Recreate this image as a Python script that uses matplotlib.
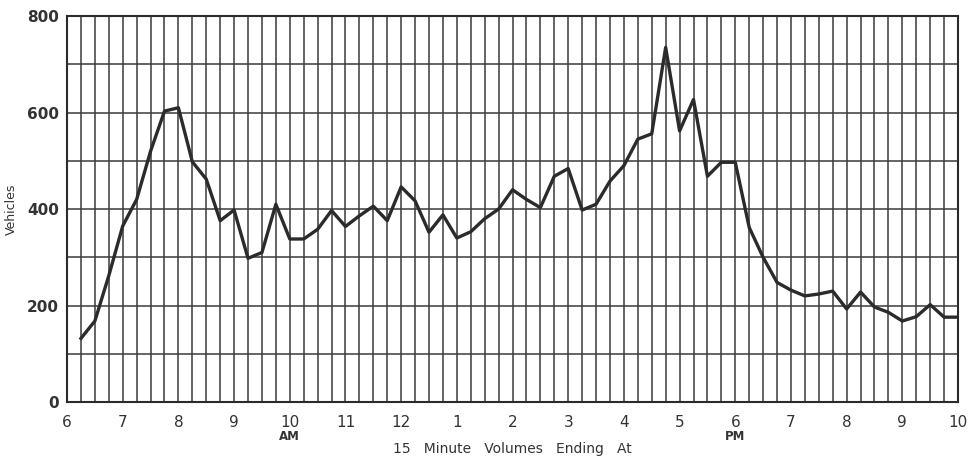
import numpy as np
import matplotlib
matplotlib.use('Agg')
import matplotlib.pyplot as plt

# 15 minute volumes, ending 6:15 AM through 10:00 PM
volumes = [132, 168, 262, 365,
           420, 520, 603, 610,
           498, 462, 376, 398,
           298, 310, 410, 338,
           338, 358, 397, 364,
           386, 406, 376, 446,
           417, 352, 388, 340,
           353, 380, 400, 440,
           420, 403, 468, 484,
           398, 410, 458, 490,
           545, 556, 735, 562,
           627, 468, 497, 497,
           362, 300, 248, 232,
           220, 224, 230, 193,
           228, 197, 186, 168,
           177, 202, 176, 176]
hour_labels = ['6', '7', '8', '9', '10', '11', '12', '1', '2', '3',
               '4', '5', '6', '7', '8', '9', '10']
y_ticks = [0, 200, 400, 600, 800]

hours = 6 + 0.25 * np.arange(1, len(volumes) + 1)

fig = plt.figure(figsize=(9.73, 4.59), dpi=100)
ax = fig.add_axes([0.0689, 0.124, 0.9157, 0.841])

# grid: every 15 minutes and every 100 vehicles
for x in np.arange(6, 22.01, 0.25):
    ax.axvline(x, color='#3a3a3a', lw=1.1, zorder=1)
for y in range(0, 801, 100):
    ax.axhline(y, color='#3a3a3a', lw=1.1, zorder=1)

ax.plot(hours, volumes, color='#2b2b2b', lw=2.4, zorder=3)

ax.set_xlim(6, 22)
ax.set_ylim(0, 800)
ax.set_xticks(np.arange(6, 23, 1))
ax.set_xticklabels(hour_labels, fontsize=11, color='#333333')
ax.set_yticks(y_ticks)
ax.set_yticklabels([str(v) for v in y_ticks], fontsize=11, color='#333333',
                   fontweight='bold')
ax.tick_params(axis='x', length=0, pad=9)
ax.tick_params(axis='y', length=0, pad=6)
for s in ax.spines.values():
    s.set_linewidth(1.5)
    s.set_color('#2b2b2b')

ax.text(10, -72, 'AM', ha='center', va='center', fontsize=8.5, color='#333333',
        fontweight='bold')
ax.text(18, -72, 'PM', ha='center', va='center', fontsize=8.5, color='#333333',
        fontweight='bold')
ax.set_xlabel('15   Minute   Volumes   Ending   At', fontsize=10, color='#333333',
              labelpad=9)
ax.set_ylabel('Vehicles', fontsize=9, color='#333333', labelpad=6)

fig.savefig('out.png', dpi=100)
